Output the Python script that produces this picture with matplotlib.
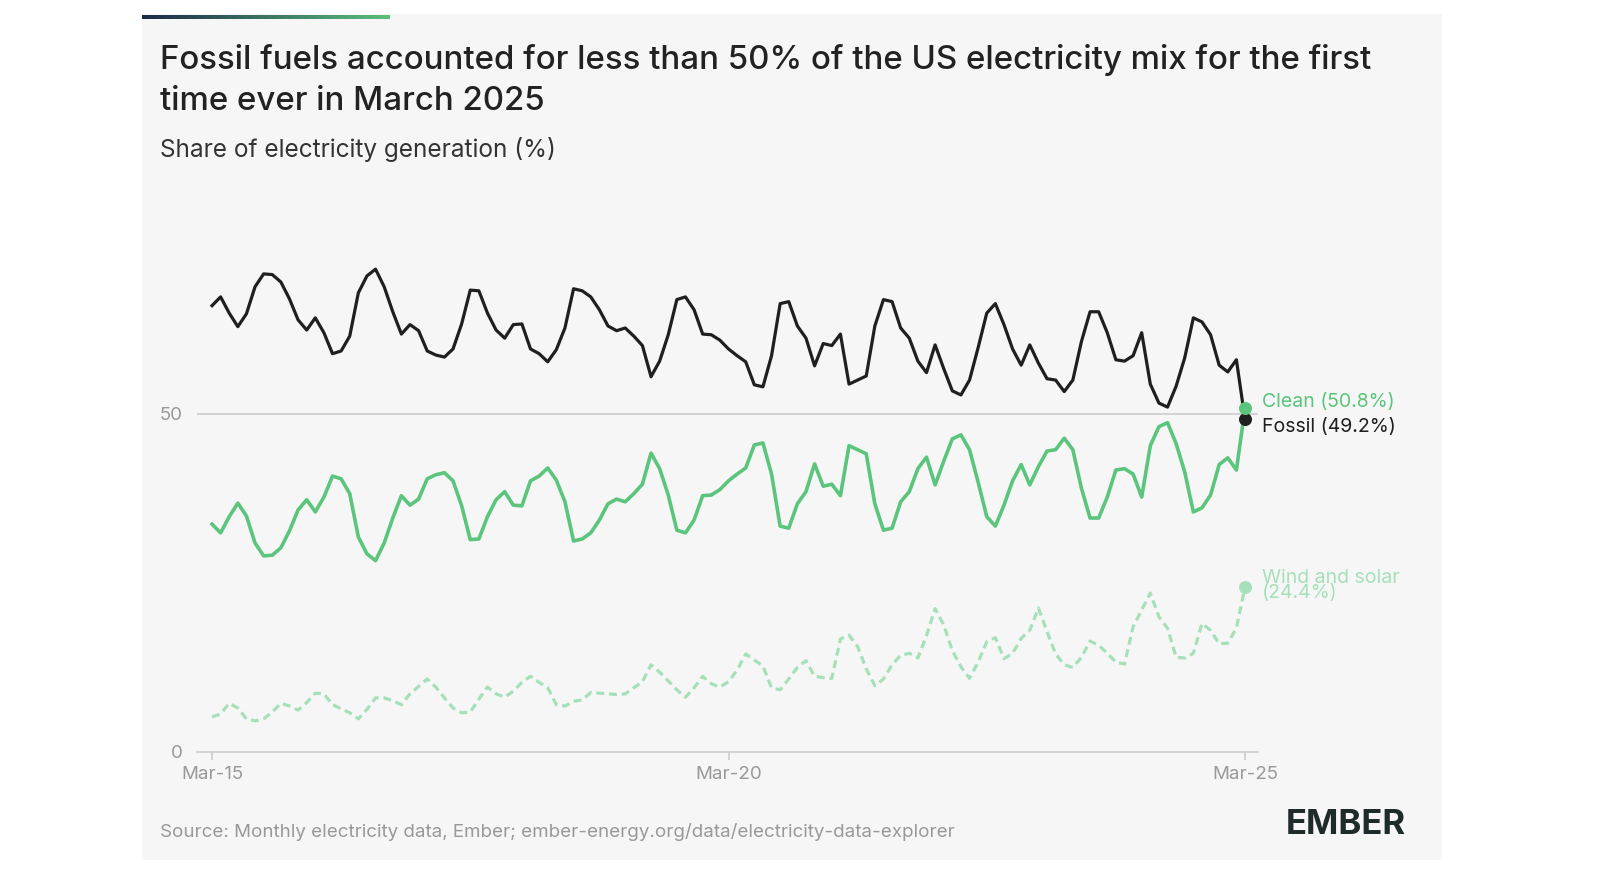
import matplotlib
matplotlib.use("Agg")
import matplotlib.pyplot as plt
import numpy as np
from matplotlib.colors import LinearSegmentedColormap

fossil = [66.0,67.3,64.9,62.9,64.8,68.8,70.7,70.6,69.5,67.0,63.9,62.4,
64.2,62.0,58.9,59.3,61.5,67.9,70.4,71.4,68.8,65.1,61.8,63.2,
62.3,59.3,58.7,58.4,59.6,63.3,68.3,68.2,64.9,62.4,61.2,63.2,
63.3,59.6,58.9,57.7,59.5,62.7,68.5,68.2,67.3,65.4,63.0,62.3,
62.7,61.5,60.1,55.5,57.8,61.7,66.9,67.3,65.4,61.8,61.7,60.9,
59.6,58.6,57.7,54.3,54.0,58.6,66.3,66.6,63.0,61.2,57.1,60.4,
60.1,61.8,54.4,55.0,55.6,63.0,66.9,66.6,62.7,61.2,57.8,56.1,
60.2,56.7,53.4,52.8,55.0,59.8,64.9,66.3,63.2,59.6,57.2,60.2,
57.5,55.2,55.0,53.3,55.0,60.7,65.1,65.1,62.0,58.0,57.8,58.6,
62.0,54.4,51.6,51.0,54.1,58.3,64.2,63.6,61.7,57.2,56.2,58.0,49.2]
clean = [33.7,32.4,34.8,36.8,34.9,30.9,29.0,29.1,30.2,32.7,35.8,37.3,
35.5,37.7,40.8,40.4,38.2,31.8,29.3,28.3,30.9,34.6,37.9,36.5,
37.4,40.4,41.0,41.3,40.1,36.4,31.4,31.5,34.8,37.3,38.5,36.5,
36.4,40.1,40.8,42.0,40.2,37.0,31.2,31.5,32.4,34.3,36.7,37.4,
37.0,38.2,39.6,44.2,41.9,38.0,32.8,32.4,34.3,37.9,38.0,38.8,
40.1,41.1,42.0,45.4,45.7,41.1,33.4,33.1,36.7,38.5,42.6,39.3,
39.6,37.9,45.3,44.7,44.1,36.7,32.8,33.1,37.0,38.5,41.9,43.6,
39.5,43.0,46.3,46.9,44.7,39.9,34.8,33.4,36.5,40.1,42.5,39.5,
42.2,44.5,44.7,46.4,44.7,39.0,34.6,34.6,37.7,41.7,41.9,41.1,
37.7,45.3,48.1,48.7,45.6,41.4,35.5,36.1,38.0,42.5,43.5,41.7,50.8]
wind_solar = [5.2,5.6,7.2,6.5,4.9,4.6,4.9,5.9,7.2,6.8,6.2,7.3,
8.7,8.6,7.0,6.4,5.8,4.9,6.3,8.0,8.0,7.6,7.0,8.6,
9.7,10.8,9.6,8.0,6.5,5.8,5.9,7.8,9.6,8.6,8.1,9.0,
10.3,11.2,10.3,9.5,7.0,6.8,7.5,7.7,8.8,8.7,8.6,8.5,
8.6,9.5,10.4,12.9,11.8,10.5,9.2,8.1,9.5,11.2,10.1,9.6,
10.4,12.1,14.5,13.6,12.7,9.5,9.2,10.8,12.5,13.5,11.2,11.0,
10.9,16.7,17.3,15.6,12.3,9.8,10.8,12.9,14.3,14.6,13.9,17.2,
21.2,18.8,15.0,12.6,10.9,13.3,16.3,16.9,13.8,14.6,16.8,18.0,
21.3,17.8,14.5,12.9,12.5,14.0,16.4,15.8,14.6,13.3,13.0,18.5,
21.0,23.5,20.0,18.3,14.0,13.9,14.6,19.0,18.0,16.0,16.1,18.3,24.4]
tick_labels = ["Mar-15", "Mar-20", "Mar-25"]
tick_pos = [0, 60, 120]

plt.rcParams["font.family"] = "Inter"
W, H = 1600, 890
fig = plt.figure(figsize=(W/100, H/100), dpi=100)
fig.patch.set_facecolor("white")
card = fig.add_axes([142/W, 1-860/H, 1300/W, 846/H], zorder=-10)
card.set_facecolor("#f6f6f6"); card.set_xticks([]); card.set_yticks([])
for s in card.spines.values(): s.set_visible(False)

grad = np.linspace(0, 1, 256)[None, :]
bax = fig.add_axes([142/W, 1-19/H, 248/W, 4/H], zorder=5)
cm = LinearSegmentedColormap.from_list("g", ["#1c2a4a", "#5cbf7c"])
bax.imshow(grad, aspect="auto", cmap=cm); bax.axis("off")

fig.text(160/W, 1-60/H, "Fossil fuels accounted for less than 50% of the US electricity mix for the first",
         fontsize=23.8, fontweight="medium", color="#222", va="center")
fig.text(160/W, 1-101/H, "time ever in March 2025", fontsize=23.8, fontweight="medium", color="#222", va="center")
fig.text(160/W, 1-149/H, "Share of electricity generation (%)", fontsize=17.5, color="#333", va="center")
fig.text(160/W, 1-832/H, "Source: Monthly electricity data, Ember; ember-energy.org/data/electricity-data-explorer",
         fontsize=13.5, color="#999", va="center")
fig.text(1406/W, 1-825/H, "EMBER", fontsize=25, fontweight="bold", color="#1f2a2a", va="center", ha="right")

x0, x1 = 197, 1258
ppm = (1245-212)/120
left = -(212-x0)/ppm; right = 120 + (x1-1245)/ppm
ax = fig.add_axes([x0/W, 1-752/H, (x1-x0)/W, (752-211)/H])
ax.set_facecolor("none")
ax.set_xlim(left, right); ax.set_ylim(0, 80)
x = np.arange(len(fossil))
ax.axhline(50, color="#cccccc", lw=1.2, zorder=1)
ax.plot(x, fossil, color="#1f1f1f", lw=2.3, zorder=3)
ax.plot(x, clean, color="#5cc57d", lw=2.6, zorder=3)
ax.plot(x, wind_solar, color="#a6e0ba", lw=2.3, ls=(0, (2.5, 1.5)), zorder=3)
ax.scatter([120], [fossil[-1]], color="#1f1f1f", s=70, zorder=5, clip_on=False)
ax.scatter([120], [clean[-1]], color="#5cc57d", s=70, zorder=5, clip_on=False)
ax.scatter([120], [wind_solar[-1]], color="#a6e0ba", s=70, zorder=5, clip_on=False)
ax.text(122, 51.8, "Clean (50.8%)", color="#5cc57d", fontsize=14, va="center")
ax.text(122, 48.0, "Fossil (49.2%)", color="#1f1f1f", fontsize=14, va="center")
ax.text(122, 24.6, "Wind and solar\n(24.4%)", color="#a6e0ba", fontsize=14, va="center", linespacing=0.75)
for s in ["top", "right", "left"]:
    ax.spines[s].set_visible(False)
ax.spines["bottom"].set_color("#cccccc"); ax.spines["bottom"].set_linewidth(1.2)
ax.set_xticks(tick_pos); ax.set_xticklabels(tick_labels, fontsize=13.5, color="#999")
ax.tick_params(axis="x", length=6, color="#cccccc", width=1.2, pad=4)
ax.set_yticks([0, 50]); ax.set_yticklabels(["0", "50"], fontsize=13.5, color="#999")
ax.tick_params(axis="y", length=0, pad=10)
fig.savefig("out.png", dpi=100, facecolor="white")
